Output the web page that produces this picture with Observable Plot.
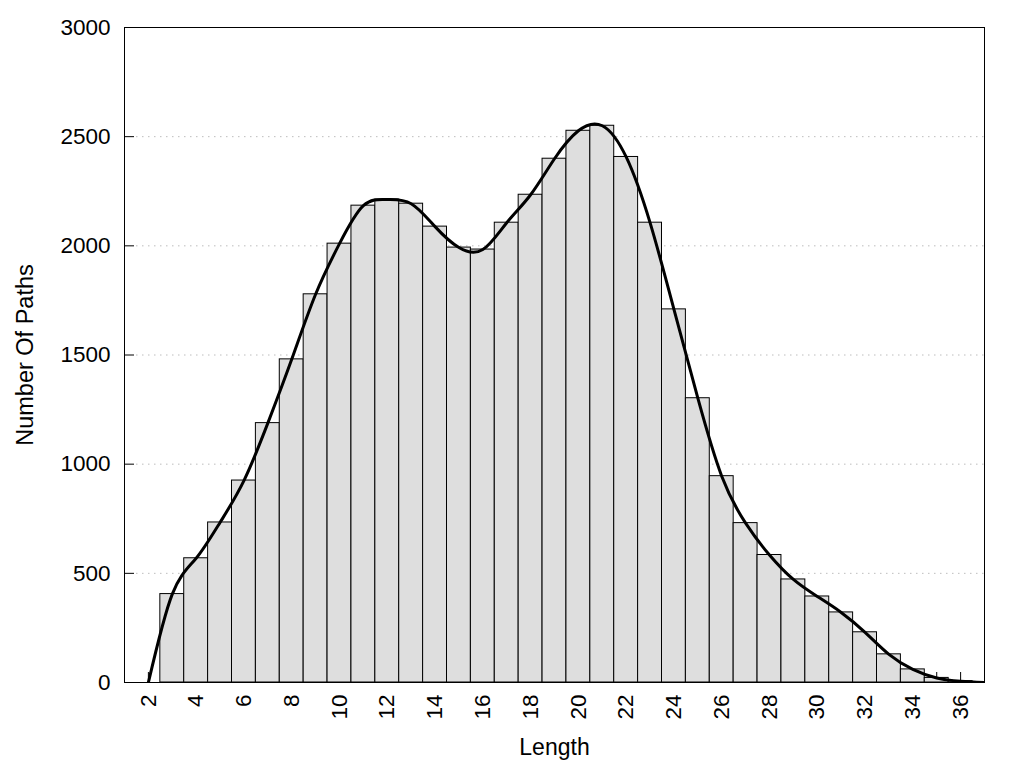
<!DOCTYPE html>
<html>
<head>
<meta charset="utf-8">
<script src="https://cdn.jsdelivr.net/npm/d3@7"></script>
<script src="https://cdn.jsdelivr.net/npm/@observablehq/plot@0.6"></script>
<style>
  html, body { margin: 0; padding: 0; background: #fff; }
  svg { display: block; }
</style>
</head>
<body>
<div id="chart"></div>
<script>
// Path lengths (x categories) and number of paths per length
const lengths = [2, 3, 4, 5, 6, 7, 8, 9, 10, 11, 12, 13, 14, 15, 16, 17, 18, 19, 20,
                 21, 22, 23, 24, 25, 26, 27, 28, 29, 30, 31, 32, 33, 34, 35, 36, 37];
const counts  = [0, 405, 569, 733, 925, 1188, 1480, 1778, 2010, 2184, 2212, 2193, 2088, 1992, 1983, 2106, 2234, 2399, 2527,
                 2550, 2407, 2106, 1709, 1302, 945, 730, 584, 472, 394, 321, 230, 129, 60, 21, 6, 0];
const xTickLabels = [2, 4, 6, 8, 10, 12, 14, 16, 18, 20, 22, 24, 26, 28, 30, 32, 34, 36];
const xTickMarks = [2, 3, 4, 5, 6, 7, 8, 9, 10, 11, 12, 13, 14, 15, 16, 17, 18, 19, 20,
                    21, 22, 23, 24, 25, 26, 27, 28, 29, 30, 31, 32, 33, 34, 35, 36];
const yTicks = [0, 500, 1000, 1500, 2000, 2500, 3000];
const yGrid = [500, 1000, 1500, 2000, 2500];
const xLabel = "Length";
const yLabel = "Number Of Paths";
const xDomain = [1, 37];
const yDomain = [0, 3000];

const data = lengths.map((len, i) => ({len, count: counts[i]}));
const bars = data.filter(d => d.count > 0);

const chart = Plot.plot({
  width: 1024,
  height: 768,
  marginLeft: 124,
  marginRight: 40,
  marginTop: 27,
  marginBottom: 86,
  style: {fontFamily: "'Liberation Sans', Arial, sans-serif", fontSize: "22px", color: "#000", background: "#fff"},
  x: {domain: xDomain},
  y: {domain: yDomain},
  marks: [
    // dotted horizontal gridlines
    Plot.ruleY(yGrid, {x1: xDomain[0], x2: xDomain[1], insetLeft: 12, stroke: "#bdbdbd", strokeWidth: 1, strokeDasharray: "1.5,4.5"}),
    // inward ticks (drawn under bars)
    Plot.ruleY(yTicks, {x1: xDomain[0], x2: xDomain[0], insetRight: -10, stroke: "#000", strokeWidth: 1}),
    Plot.ruleX(xTickMarks, {y1: yDomain[0], y2: yDomain[0], insetTop: -10, stroke: "#000", strokeWidth: 1}),
    // histogram bars
    Plot.rectY(bars, {x1: d => d.len - 0.5, x2: d => d.len + 0.5, y: "count", fill: "#dedede", stroke: "#000", strokeWidth: 1}),
    // smoothed curve
    Plot.line(data, {x: "len", y: "count", curve: "natural", stroke: "#000", strokeWidth: 3, clip: true}),
    Plot.frame({stroke: "#000", strokeWidth: 1}),
    Plot.axisY(yTicks, {tickSize: 0, tickPadding: 14, tickFormat: d3.format("d"), label: null, fontSize: 22.5, fill: "#000"}),
    Plot.axisX(xTickLabels, {tickSize: 0, tickPadding: 12, tickRotate: -90, tickFormat: d3.format("d"), label: null, fontSize: 22.5, fill: "#000"}),
    Plot.text([xLabel], {frameAnchor: "bottom", dy: 72, text: d => d, fontSize: 23, fill: "#000"}),
    Plot.text([yLabel], {frameAnchor: "left", dx: -99, rotate: -90, textAnchor: "middle", lineAnchor: "middle", text: d => d, fontSize: 23.5, fill: "#000"})
  ]
});
document.getElementById("chart").appendChild(chart);
</script>
</body>
</html>
